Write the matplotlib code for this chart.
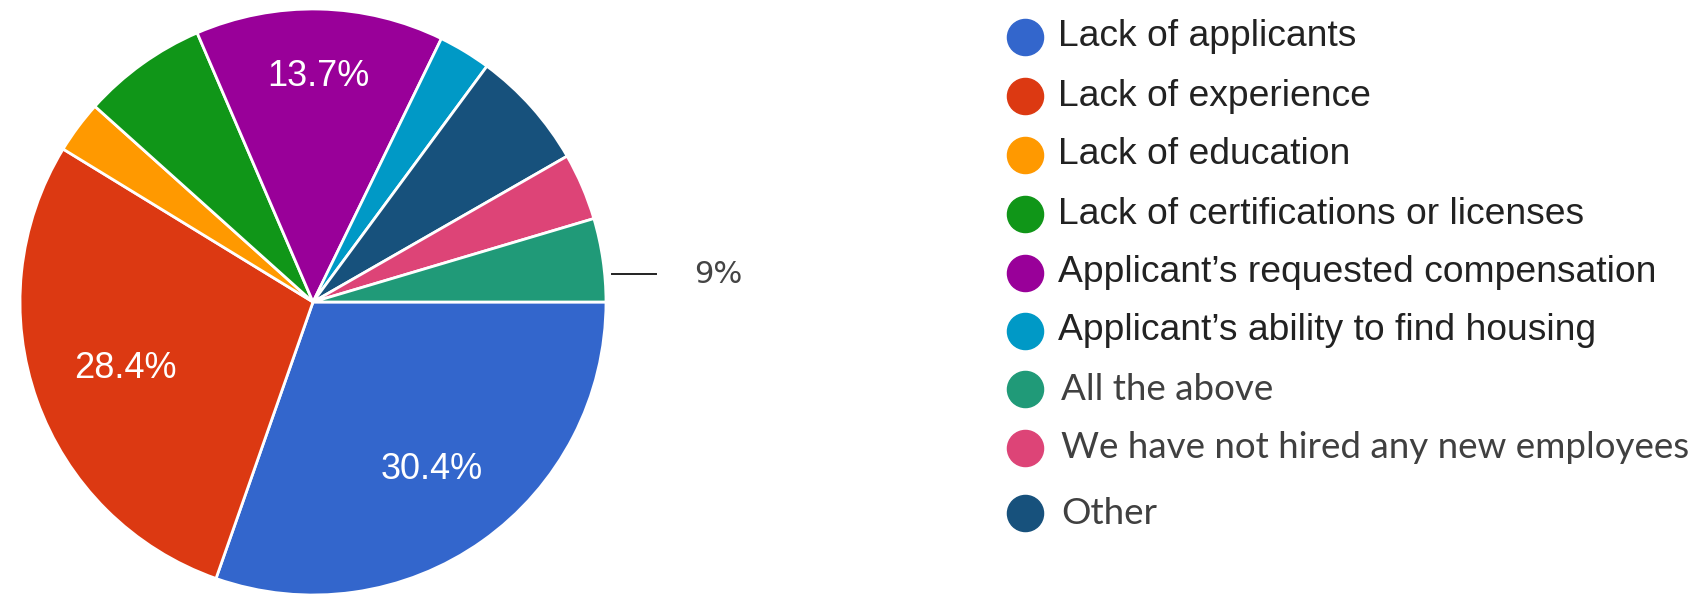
import numpy as np, matplotlib
matplotlib.use('Agg')
import matplotlib.pyplot as plt

# legend order
labels = ['Lack of applicants', 'Lack of experience', 'Lack of education',
          'Lack of certifications or licenses', 'Applicant\u2019s requested compensation',
          'Applicant\u2019s ability to find housing', 'All the above',
          'We have not hired any new employees', 'Other']
shares = [30.4, 28.4, 2.9, 6.9, 13.7, 2.9, 4.6, 3.7, 6.6]
colors = ['#3366CC', '#DC3912', '#FF9900', '#109618', '#990099', '#0099C6',
          '#209A78', '#DD4477', '#17517C']
pct_text = ['30.4%', '28.4%', '', '', '13.7%', '', '9%', '', '']
# order of slices around the pie (clockwise from 3 o'clock)
pie_order = [0, 1, 2, 3, 4, 5, 8, 7, 6]

W, H = 1704, 595
fig = plt.figure(figsize=(W/100, H/100), dpi=100)
fig.patch.set_facecolor('white')

ax = fig.add_axes([20/W, 0, 586/W, 586/H])
vals = [shares[i] for i in pie_order]
cols = [colors[i] for i in pie_order]
wedges, _ = ax.pie(vals, colors=cols, startangle=0, counterclock=False, radius=1,
                   wedgeprops=dict(edgecolor='white', linewidth=2))
ax.set_xlim(-1, 1); ax.set_ylim(-1, 1); ax.set_aspect('equal')

label_r = {0: 0.70, 1: 0.68, 4: 0.77}
for w, i in zip(wedges, pie_order):
    txt = pct_text[i]
    if not txt:
        continue
    mid = np.deg2rad((w.theta1 + w.theta2) / 2)
    if i == 6:
        y = np.sin(mid) * 0.66
        ax.plot([1.02, 1.17], [y, y], color='#222222', lw=1.4, clip_on=False)
        ax.text(1.30, y, txt, ha='left', va='center', fontsize=22, color='#444444',
                family='DejaVu Sans')
    else:
        r = label_r[i]
        ax.text(r*np.cos(mid), r*np.sin(mid), txt, ha='center', va='center',
                fontsize=26, color='white', family='Liberation Sans')

# legend drawn by hand
lg = fig.add_axes([0, 0, 1, 1]); lg.set_xlim(0, W); lg.set_ylim(H, 0); lg.axis('off')
rows_y = [37, 96, 155, 214, 273, 331, 389, 448, 513]
for k, (lab, c, y) in enumerate(zip(labels, colors, rows_y)):
    lg.plot(1025, y, 'o', ms=26, color=c, mec=c)
    if k < 6:
        lg.text(1058, y, lab, ha='left', va='center', fontsize=26.8, color='#222222',
                family='Liberation Sans')
    else:
        lg.text(1061, y, lab, ha='left', va='center', fontsize=26.5, color='#404040',
                family='Lato')

fig.savefig('out.png', dpi=100, facecolor='white')
